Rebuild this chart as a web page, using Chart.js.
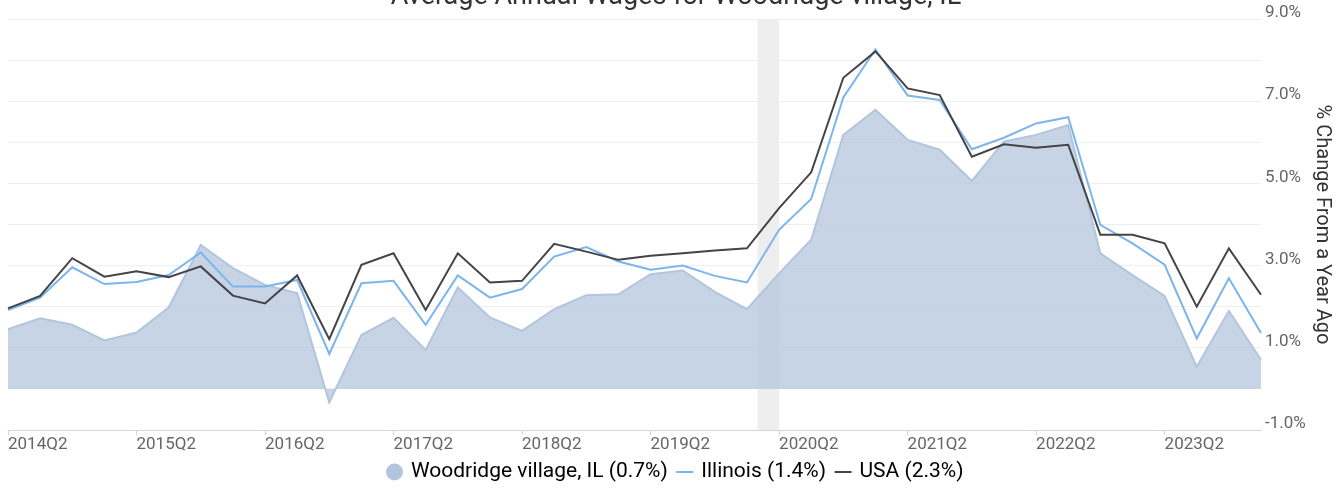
<!DOCTYPE html>
<html>
<head>
<meta charset="utf-8">
<script src="https://cdn.jsdelivr.net/npm/chart.js@4/dist/chart.umd.min.js"></script>
<style>
  html, body { margin: 0; padding: 0; background: #fff; }
  #wrap { position: relative; width: 1344px; height: 488px; }
</style>
</head>
<body>
<div id="wrap"><canvas id="c" width="1344" height="488"></canvas></div>
<script>
const categories = ['2014Q2','2014Q3','2014Q4','2015Q1','2015Q2','2015Q3','2015Q4','2016Q1','2016Q2','2016Q3','2016Q4','2017Q1','2017Q2','2017Q3','2017Q4','2018Q1','2018Q2','2018Q3','2018Q4','2019Q1','2019Q2','2019Q3','2019Q4','2020Q1','2020Q2','2020Q3','2020Q4','2021Q1','2021Q2','2021Q3','2021Q4','2022Q1','2022Q2','2022Q3','2022Q4','2023Q1','2023Q2','2023Q3','2023Q4','2024Q1'];
const woodridge = [1.45,1.72,1.56,1.18,1.37,1.98,3.50,2.94,2.53,2.33,-0.33,1.31,1.73,0.95,2.47,1.74,1.41,1.94,2.28,2.30,2.79,2.88,2.36,1.94,2.81,3.63,6.18,6.79,6.06,5.82,5.06,6.02,6.18,6.42,3.30,2.77,2.26,0.54,1.90,0.71];
const illinois = [1.92,2.22,2.96,2.55,2.60,2.77,3.32,2.49,2.49,2.65,0.85,2.57,2.63,1.56,2.76,2.22,2.43,3.22,3.45,3.10,2.90,3.00,2.75,2.59,3.87,4.62,7.09,8.26,7.14,7.03,5.83,6.11,6.46,6.61,3.99,3.54,3.02,1.23,2.69,1.36];
const usa = [1.96,2.26,3.18,2.73,2.86,2.72,2.98,2.27,2.08,2.76,1.21,3.02,3.30,1.92,3.30,2.59,2.63,3.53,3.34,3.14,3.24,3.30,3.37,3.42,4.40,5.27,7.57,8.21,7.31,7.15,5.65,5.95,5.87,5.94,3.75,3.75,3.54,2.00,3.42,2.29];
const seriesNames = ['Woodridge village, IL (0.7%)', 'Illinois (1.4%)', 'USA (2.3%)'];
const xTickLabels = ['2014Q2','2015Q2','2016Q2','2017Q2','2018Q2','2019Q2','2020Q2','2021Q2','2022Q2','2023Q2'];
const yTickLabels = [-1, 1, 3, 5, 7, 9];
const yMin = -1, yMax = 9;
// recession shading, in category-index units (Feb 2020 .. Apr 2020)
const recessionStart = 23.33, recessionEnd = 24.0;

const FONT = 'Roboto, "Liberation Sans", Arial, sans-serif';

const recessionPlugin = {
  id: 'recession',
  beforeDatasetsDraw(chart) {
    const {ctx, chartArea, scales} = chart;
    const x1 = scales.x.getPixelForValue(recessionStart);
    const x2 = scales.x.getPixelForValue(recessionEnd);
    ctx.save();
    ctx.fillStyle = '#eeeeee';
    ctx.fillRect(x1, chartArea.top, x2 - x1, chartArea.bottom - chartArea.top);
    ctx.restore();
  }
};

new Chart(document.getElementById('c'), {
  type: 'line',
  data: {
    labels: categories,
    datasets: [
      {
        label: seriesNames[0], data: woodridge,
        borderColor: '#b3c5dc', backgroundColor: 'rgba(179,197,220,0.75)',
        borderWidth: 2, fill: 'origin', pointRadius: 0, tension: 0, order: 3,
        pointStyle: 'circle'
      },
      {
        label: seriesNames[1], data: illinois,
        borderColor: '#7cb5ec', backgroundColor: '#7cb5ec',
        borderWidth: 2, fill: false, pointRadius: 0, tension: 0, order: 2,
        pointStyle: 'line'
      },
      {
        label: seriesNames[2], data: usa,
        borderColor: '#434348', backgroundColor: '#434348',
        borderWidth: 2, fill: false, pointRadius: 0, tension: 0, order: 1,
        pointStyle: 'line'
      }
    ]
  },
  options: {
    responsive: false,
    animation: false,
    layout: { padding: { left: 8, right: 0, top: 0, bottom: -4.5 } },
    plugins: {
      title: {
        display: true,
        text: 'Average Annual Wages for Woodridge village, IL',
        color: '#333333',
        font: { family: FONT, size: 27, weight: 'normal' },
        padding: { top: -18.7, bottom: 5.3 }
      },
      legend: {
        position: 'bottom',
        labels: {
          usePointStyle: true,
          boxWidth: 12, boxHeight: 12,
          padding: 11,
          color: '#333333',
          font: { family: FONT, size: 21 },
          generateLabels(chart) {
            return chart.data.datasets.map((ds, i) => ({
              text: ds.label,
              fillStyle: ds.borderColor,
              strokeStyle: ds.borderColor,
              lineWidth: i === 0 ? 0 : 2,
              pointStyle: ds.pointStyle,
              datasetIndex: i,
              hidden: false
            }));
          }
        }
      },
      tooltip: { enabled: false }
    },
    scales: {
      x: {
        type: 'category',
        offset: false,
        afterFit(scale) { scale.height = 20.5; },
        grid: {
          drawOnChartArea: false,
          drawTicks: true,
          tickLength: 5,
          color: (c) => (xTickLabels.includes(categories[c.index]) ? '#ccd6eb' : 'rgba(0,0,0,0)'),
          tickColor: (c) => (xTickLabels.includes(categories[c.index]) ? '#ccd6eb' : 'rgba(0,0,0,0)')
        },
        border: { display: true, color: '#ccd6eb', width: 1 },
        ticks: {
          autoSkip: false,
          maxRotation: 0,
          minRotation: 0,
          align: 'start',
          padding: 0,
          color: '#666666',
          font: { family: FONT, size: 17 },
          callback(v, i) { const l = categories[i]; return xTickLabels.includes(l) ? l : ''; }
        }
      },
      y: {
        position: 'right',
        min: yMin, max: yMax,
        afterFit(scale) { scale.width = 83; },
        grid: {
          drawTicks: false,
          color: (c) => (c.tick && c.tick.value === yMin ? '#ccd6eb' : '#efefef'),
          lineWidth: 1
        },
        border: { display: false },
        ticks: {
          stepSize: 1,
          padding: 4,
          labelOffset: -6,
          color: '#666666',
          font: { family: FONT, size: 17 },
          callback(v) { return yTickLabels.includes(v) ? v.toFixed(1) + '%' : ''; }
        },
        title: {
          display: true,
          text: '% Change From a Year Ago',
          color: '#333333',
          font: { family: FONT, size: 20 },
          padding: { top: 10, bottom: 0 }
        }
      }
    }
  },
  plugins: [recessionPlugin]
});
</script>
</body>
</html>
